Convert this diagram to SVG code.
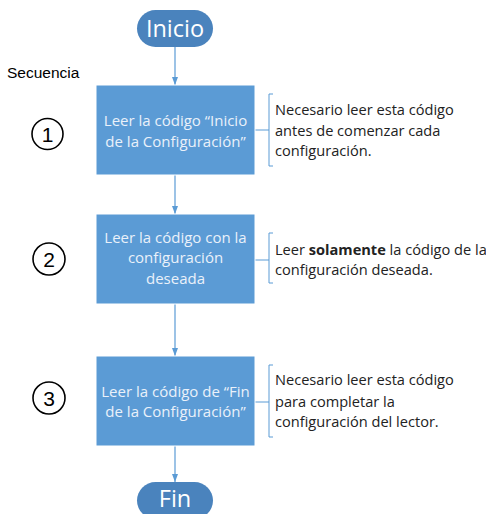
<svg xmlns="http://www.w3.org/2000/svg" width="486" height="514" viewBox="0 0 486 514">
<style>
.term{fill:#4a83bd;}
.termt{fill:#ffffff;font-family:"Open Sans","Liberation Sans",sans-serif;font-size:23.5px;text-anchor:middle;}
.box{fill:#5b9bd5;stroke:#ffffff;stroke-width:1;}
.boxt{fill:#eaf1fa;font-family:"Open Sans","Liberation Sans",sans-serif;font-size:15px;text-anchor:middle;}
.note{fill:#222;font-family:"Open Sans","Liberation Sans",sans-serif;font-size:14.6px;}
.br{fill:none;stroke:#5b9bd5;stroke-width:1;}
.conn{stroke:#5b9bd5;stroke-width:1.2;fill:none;marker-end:url(#ah);}
.num{fill:none;stroke:#000;stroke-width:1.6;}
.numt{fill:#000;font-family:"Liberation Sans",Arial,sans-serif;font-size:21px;text-anchor:middle;}
</style>
<defs>
<marker id="ah" markerWidth="8" markerHeight="6" refX="8" refY="3" orient="auto" markerUnits="userSpaceOnUse">
<path d="M0,0 L8,3 L0,6 z" fill="#5b9bd5"/>
</marker>
</defs>
<g id="connectors">
<line class="conn" x1="175" y1="47" x2="175" y2="85"/>
<line class="conn" x1="175" y1="175" x2="175" y2="214"/>
<line class="conn" x1="175" y1="304" x2="175" y2="356"/>
<line class="conn" x1="175" y1="446" x2="175" y2="482"/>
<line class="br" x1="255" y1="130" x2="269" y2="130"/>
<line class="br" x1="255" y1="260" x2="269" y2="260"/>
<line class="br" x1="255" y1="402" x2="269" y2="402"/>
</g>
<text x="7" y="78" font-family="Liberation Sans, Arial, sans-serif" font-size="15.5px" fill="#000">Secuencia</text>
<g id="inicio">
<rect class="term" x="137" y="10" width="76" height="37" rx="18.5"/>
<text class="termt" x="175" y="37">Inicio</text>
</g>
<g id="step1">
<rect class="box" x="96" y="85" width="159" height="90"/>
<text class="boxt" x="175.5" y="126">Leer la código “Inicio</text>
<text class="boxt" x="175.5" y="147">de la Configuración”</text>
</g>
<g id="num1">
<circle class="num" cx="47.5" cy="134" r="15.5"/>
<text class="numt" x="47.5" y="141.5">1</text>
</g>
<g id="note1">
<path class="br" d="M273,94 L269,94 L269,166 L273,166"/>
<text class="note" x="275" y="115">Necesario leer esta código</text>
<text class="note" x="275" y="136">antes de comenzar cada</text>
<text class="note" x="275" y="156">configuración.</text>
</g>
<g id="step2">
<rect class="box" x="96" y="214" width="159" height="90"/>
<text class="boxt" x="175.5" y="243">Leer la código con la</text>
<text class="boxt" x="175.5" y="263">configuración</text>
<text class="boxt" x="175.5" y="284">deseada</text>
</g>
<g id="num2">
<circle class="num" cx="49" cy="259" r="16"/>
<text class="numt" x="49" y="266.5">2</text>
</g>
<g id="note2">
<path class="br" d="M273,233 L269,233 L269,283 L273,283"/>
<text class="note" x="275" y="255">Leer <tspan font-weight="bold">solamente</tspan> la código de la</text>
<text class="note" x="275" y="275">configuración deseada.</text>
</g>
<g id="step3">
<rect class="box" x="96" y="356" width="159" height="90"/>
<text class="boxt" x="175.5" y="397">Leer la código de “Fin</text>
<text class="boxt" x="175.5" y="417">de la Configuración”</text>
</g>
<g id="num3">
<circle class="num" cx="49" cy="398" r="16"/>
<text class="numt" x="49" y="405.5">3</text>
</g>
<g id="note3">
<path class="br" d="M273,365 L269,365 L269,437 L273,437"/>
<text class="note" x="275" y="385">Necesario leer esta código</text>
<text class="note" x="275" y="407">para completar la</text>
<text class="note" x="275" y="427">configuración del lector.</text>
</g>
<g id="fin">
<rect class="term" x="137" y="482" width="76" height="37" rx="18.5"/>
<text class="termt" x="175" y="507">Fin</text>
</g>
</svg>
